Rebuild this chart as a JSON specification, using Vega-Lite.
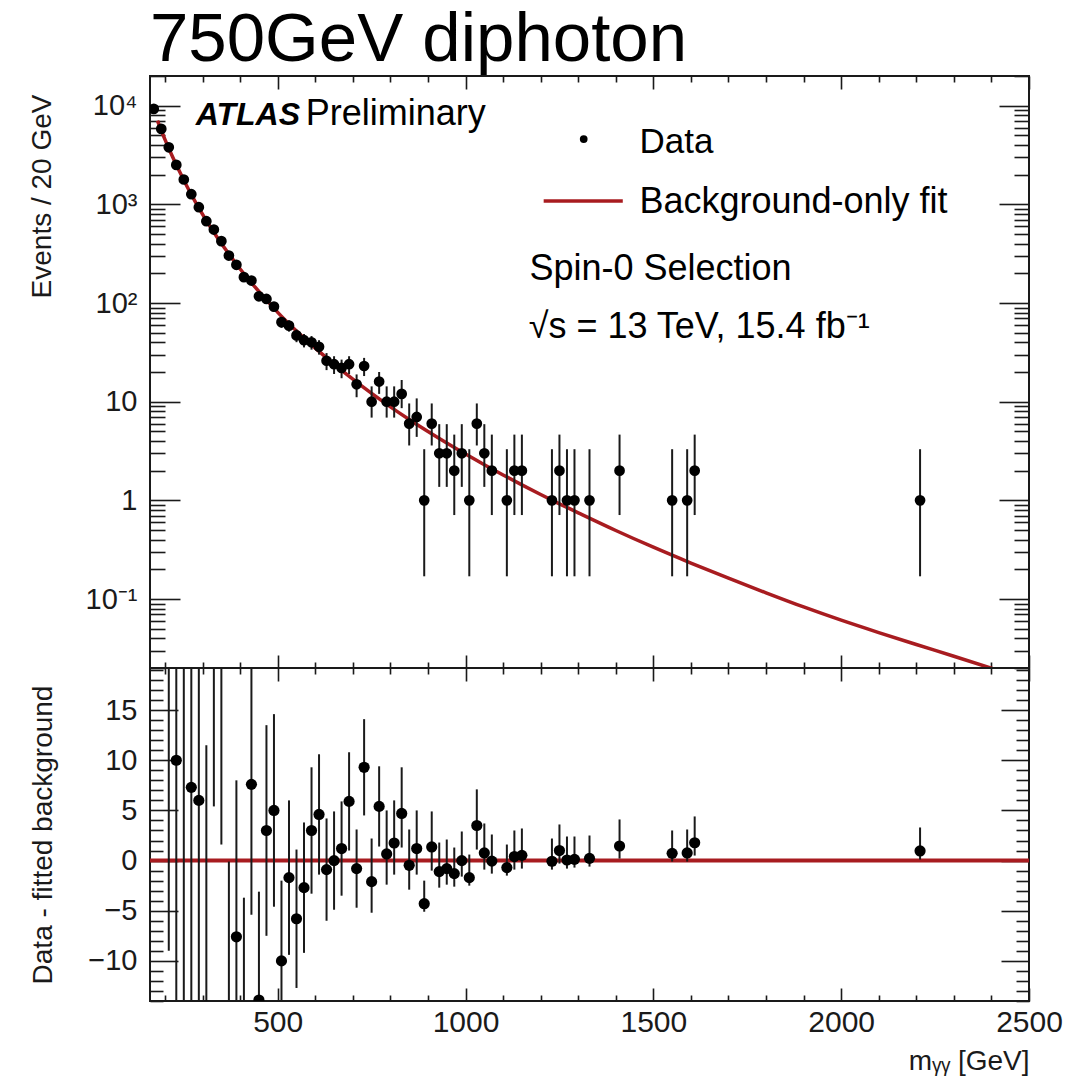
{
  "$schema": "https://vega.github.io/schema/vega-lite/v6.json",
  "background": "white",
  "padding": {"left": 27, "top": 5, "right": 5, "bottom": 5},
  "spacing": 0,
  "bounds": "flush",
  "datasets": {
    "data": [
      {"m":170,"n":9280,"lo":9184,"hi":9376},{"m":190,"n":5820,"lo":5744,"hi":5896},{"m":210,"n":3790,"lo":3728,"hi":3852},
      {"m":230,"n":2512,"lo":2462,"hi":2562},{"m":250,"n":1787,"lo":1745,"hi":1829},{"m":270,"n":1268,"lo":1232,"hi":1304},
      {"m":290,"n":936,"lo":905,"hi":967},{"m":310,"n":675,"lo":649,"hi":701},{"m":330,"n":556,"lo":532,"hi":580},
      {"m":350,"n":424,"lo":403,"hi":445},{"m":370,"n":303,"lo":286,"hi":320},{"m":390,"n":244,"lo":228,"hi":260},
      {"m":410,"n":183,"lo":169,"hi":197},{"m":430,"n":169,"lo":156,"hi":182},{"m":450,"n":117,"lo":106,"hi":128},
      {"m":470,"n":110,"lo":99.5,"hi":120.5},{"m":490,"n":92,"lo":82.4,"hi":101.6},{"m":510,"n":64,"lo":56,"hi":72},
      {"m":530,"n":59,"lo":51.3,"hi":66.7},{"m":550,"n":47,"lo":40.1,"hi":53.9},{"m":570,"n":42,"lo":35.5,"hi":48.5},
      {"m":590,"n":40,"lo":33.7,"hi":46.3},{"m":610,"n":36,"lo":30,"hi":42},{"m":630,"n":26,"lo":20.9,"hi":31.1},
      {"m":650,"n":24,"lo":19.1,"hi":28.9},{"m":670,"n":22,"lo":17.3,"hi":26.7},{"m":690,"n":24,"lo":19.1,"hi":28.9},
      {"m":710,"n":15,"lo":11.1,"hi":18.9},{"m":730,"n":23,"lo":18.2,"hi":27.8},{"m":750,"n":10,"lo":6.9,"hi":14.3},
      {"m":770,"n":16,"lo":12,"hi":20},{"m":790,"n":10,"lo":6.9,"hi":14.3},{"m":810,"n":10,"lo":6.9,"hi":14.3},
      {"m":830,"n":12,"lo":8.6,"hi":16.6},{"m":850,"n":6,"lo":3.6,"hi":9.6},{"m":870,"n":7,"lo":4.4,"hi":10.8},
      {"m":890,"n":1,"lo":0.17,"hi":3.3},{"m":910,"n":6,"lo":3.6,"hi":9.6},{"m":930,"n":3,"lo":1.37,"hi":5.92},
      {"m":950,"n":3,"lo":1.37,"hi":5.92},{"m":970,"n":2,"lo":0.71,"hi":4.64},{"m":990,"n":3,"lo":1.37,"hi":5.92},
      {"m":1010,"n":1,"lo":0.17,"hi":3.3},{"m":1030,"n":6,"lo":3.6,"hi":9.6},{"m":1050,"n":3,"lo":1.37,"hi":5.92},
      {"m":1070,"n":2,"lo":0.71,"hi":4.64},{"m":1110,"n":1,"lo":0.17,"hi":3.3},{"m":1130,"n":2,"lo":0.71,"hi":4.64},
      {"m":1150,"n":2,"lo":0.71,"hi":4.64},{"m":1230,"n":1,"lo":0.17,"hi":3.3},{"m":1250,"n":2,"lo":0.71,"hi":4.64},
      {"m":1270,"n":1,"lo":0.17,"hi":3.3},{"m":1290,"n":1,"lo":0.17,"hi":3.3},{"m":1330,"n":1,"lo":0.17,"hi":3.3},
      {"m":1410,"n":2,"lo":0.71,"hi":4.64},{"m":1550,"n":1,"lo":0.17,"hi":3.3},{"m":1590,"n":1,"lo":0.17,"hi":3.3},
      {"m":1610,"n":2,"lo":0.71,"hi":4.64},{"m":2210,"n":1,"lo":0.17,"hi":3.3}
    ],
    "fit": [
      {"m":180,"f":7046},{"m":200,"f":4531},{"m":220,"f":3034},{"m":240,"f":2100},{"m":260,"f":1481},
      {"m":280,"f":1072},{"m":300,"f":791.5},{"m":320,"f":596.9},{"m":340,"f":456.8},{"m":360,"f":354.6},
      {"m":380,"f":278.7},{"m":400,"f":221.4},{"m":420,"f":178.1},{"m":440,"f":144.6},{"m":460,"f":118.3},
      {"m":480,"f":97.4},{"m":500,"f":80.5},{"m":550,"f":52.0},{"m":600,"f":34.9},{"m":650,"f":24.06},
      {"m":700,"f":16.91},{"m":750,"f":12.13},{"m":800,"f":8.875},{"m":850,"f":6.61},{"m":900,"f":4.99},
      {"m":950,"f":3.814},{"m":1000,"f":2.947},{"m":1050,"f":2.299},{"m":1100,"f":1.81},{"m":1150,"f":1.436},
      {"m":1200,"f":1.148},{"m":1250,"f":0.9226},{"m":1300,"f":0.7482},{"m":1400,"f":0.4953},{"m":1500,"f":0.3352},
      {"m":1600,"f":0.2317},{"m":1700,"f":0.1626},{"m":1800,"f":0.1156},{"m":1900,"f":0.0831},{"m":2000,"f":0.061},
      {"m":2100,"f":0.0457},{"m":2200,"f":0.0346},{"m":2300,"f":0.0263},{"m":2425,"f":0.01855}
    ],
    "resid": [
      {"m":210,"r":52.6,"lo":-9,"hi":114.2},{"m":230,"r":10,"lo":-40,"hi":60},{"m":250,"r":22,"lo":-20.3,"hi":64.3},
      {"m":270,"r":7.3,"lo":-28.3,"hi":42.9},{"m":290,"r":6.0,"lo":-24.6,"hi":36.6},{"m":310,"r":-14.5,"lo":-40.5,"hi":11.5},
      {"m":330,"r":29,"lo":5.4,"hi":52.6},{"m":350,"r":22.2,"lo":1.6,"hi":42.8},{"m":370,"r":-17.5,"lo":-34.9,"hi":-0.1},
      {"m":390,"r":-7.6,"lo":-23.2,"hi":8.0},{"m":410,"r":-17.2,"lo":-30.7,"hi":-3.7},{"m":430,"r":7.6,"lo":-5.4,"hi":20.6},
      {"m":450,"r":-13.9,"lo":-24.7,"hi":-3.1},{"m":470,"r":3.0,"lo":-7.5,"hi":13.5},{"m":490,"r":5.0,"lo":-4.6,"hi":14.6},
      {"m":510,"r":-10.0,"lo":-18.0,"hi":-2.0},{"m":530,"r":-1.7,"lo":-9.4,"hi":6.0},{"m":550,"r":-5.8,"lo":-12.7,"hi":1.1},
      {"m":570,"r":-2.7,"lo":-9.2,"hi":3.8},{"m":590,"r":3.0,"lo":-3.3,"hi":9.3},{"m":610,"r":4.6,"lo":-1.4,"hi":10.6},
      {"m":630,"r":-0.9,"lo":-6.0,"hi":4.2},{"m":650,"r":0.0,"lo":-4.9,"hi":4.9},{"m":670,"r":1.2,"lo":-3.5,"hi":5.9},
      {"m":690,"r":5.9,"lo":1.0,"hi":10.8},{"m":710,"r":-0.8,"lo":-4.7,"hi":3.1},{"m":730,"r":9.3,"lo":4.5,"hi":14.1},
      {"m":750,"r":-2.1,"lo":-5.2,"hi":2.2},{"m":770,"r":5.4,"lo":1.4,"hi":9.4},{"m":790,"r":0.66,"lo":-2.4,"hi":5.0},
      {"m":810,"r":1.75,"lo":-1.4,"hi":6.0},{"m":830,"r":4.7,"lo":1.3,"hi":9.3},{"m":850,"r":-0.47,"lo":-2.9,"hi":3.1},
      {"m":870,"r":1.2,"lo":-1.4,"hi":5.0},{"m":890,"r":-4.3,"lo":-5.1,"hi":-2.0},{"m":910,"r":1.36,"lo":-1.0,"hi":4.9},
      {"m":930,"r":-1.1,"lo":-2.7,"hi":1.8},{"m":950,"r":-0.8,"lo":-2.4,"hi":2.1},{"m":970,"r":-1.3,"lo":-2.6,"hi":1.3},
      {"m":990,"r":0.0,"lo":-1.6,"hi":2.9},{"m":1010,"r":-1.7,"lo":-2.5,"hi":0.6},{"m":1030,"r":3.5,"lo":1.1,"hi":7.1},
      {"m":1050,"r":0.76,"lo":-0.9,"hi":3.7},{"m":1070,"r":-0.05,"lo":-1.3,"hi":2.6},{"m":1110,"r":-0.7,"lo":-1.5,"hi":1.6},
      {"m":1130,"r":0.4,"lo":-0.9,"hi":3.0},{"m":1150,"r":0.52,"lo":-0.8,"hi":3.2},{"m":1230,"r":-0.07,"lo":-0.9,"hi":2.2},
      {"m":1250,"r":1.0,"lo":-0.3,"hi":3.6},{"m":1270,"r":0.06,"lo":-0.8,"hi":2.4},{"m":1290,"r":0.12,"lo":-0.7,"hi":2.4},
      {"m":1330,"r":0.22,"lo":-0.6,"hi":2.5},{"m":1410,"r":1.45,"lo":0.2,"hi":4.1},{"m":1550,"r":0.72,"lo":-0.1,"hi":3.0},
      {"m":1590,"r":0.76,"lo":-0.1,"hi":3.1},{"m":1610,"r":1.78,"lo":0.5,"hi":4.4},{"m":2210,"r":0.96,"lo":0.1,"hi":3.3}
    ],
    "zero": [{"m":160,"z":0},{"m":2500,"z":0}],
    "one": [{}]
  },
  "vconcat": [
    {
      "width": 879,
      "height": 592,
      "title": {"text": "750GeV diphoton", "anchor": "start", "frame": "group", "font": "Liberation Sans", "fontSize": 69, "fontWeight": "normal", "color": "black", "offset": 0},
      "layer": [
        {
          "data": {"name": "fit"},
          "mark": {"type": "line", "color": "#a81c20", "strokeWidth": 3.5, "interpolate": "monotone", "clip": true},
          "encoding": {
            "x": {"field": "m", "type": "quantitative", "scale": {"domain": [160, 2500], "nice": false, "zero": false},
                  "axis": {"orient": "bottom", "values": [500,1000,1500,2000,2500], "tickSize": -13, "labels": false, "title": null}},
            "y": {"field": "f", "type": "quantitative", "scale": {"type": "log", "domain": [0.02, 20000], "nice": false},
                  "axis": {"orient": "left", "values": [0.1,1,10,100,1000,10000], "tickSize": -30, "labelPadding": 43,
                           "labelExpr": "datum.value >= 9999 ? '10⁴' : datum.value >= 999 ? '10³' : datum.value >= 99 ? '10²' : datum.value >= 9 ? '10' : datum.value >= 0.9 ? '1' : '10⁻¹'",
                           "labelOverlap": false, "title": "Events / 20 GeV", "titleAnchor": "end", "titleY": 18, "titlePadding": 29}}
          }
        },
        {
          "data": {"name": "data"},
          "mark": {"type": "rule", "color": "#1a1a1a", "strokeWidth": 2, "clip": true},
          "encoding": {
            "x": {"field": "m", "type": "quantitative", "scale": {"domain": [160, 2500], "nice": false, "zero": false},
                  "axis": {"orient": "top", "values": [500,1000,1500,2000,2500], "tickSize": -13, "labels": false, "title": null}},
            "y": {"field": "lo", "type": "quantitative", "scale": {"type": "log", "domain": [0.02, 20000], "nice": false},
                  "axis": {"orient": "right", "values": [0.1,1,10,100,1000,10000], "tickSize": -30, "labels": false, "title": null}},
            "y2": {"field": "n"}
          }
        },
        {
          "data": {"name": "data"},
          "mark": {"type": "rule", "color": "#1a1a1a", "strokeWidth": 2, "clip": true},
          "encoding": {
            "x": {"field": "m", "type": "quantitative", "scale": {"domain": [160, 2500], "nice": false, "zero": false},
                  "axis": {"orient": "bottom", "values": [200,300,400,600,700,800,900,1100,1200,1300,1400,1600,1700,1800,1900,2100,2200,2300,2400], "tickSize": -6, "labels": false, "title": null}},
            "y": {"field": "n", "type": "quantitative", "scale": {"type": "log", "domain": [0.02, 20000], "nice": false},
                  "axis": {"orient": "left", "values": [0.02,0.03,0.04,0.05,0.06,0.07,0.08,0.09,0.2,0.3,0.4,0.5,0.6,0.7,0.8,0.9,2,3,4,5,6,7,8,9,20,30,40,50,60,70,80,90,200,300,400,500,600,700,800,900,2000,3000,4000,5000,6000,7000,8000,9000,20000], "tickSize": -15, "labels": false, "title": null}},
            "y2": {"field": "hi"}
          }
        },
        {
          "data": {"name": "data"},
          "mark": {"type": "circle", "color": "black", "opacity": 1, "size": 115, "clip": true},
          "encoding": {
            "x": {"field": "m", "type": "quantitative", "scale": {"domain": [160, 2500], "nice": false, "zero": false},
                  "axis": {"orient": "top", "values": [200,300,400,600,700,800,900,1100,1200,1300,1400,1600,1700,1800,1900,2100,2200,2300,2400], "tickSize": -6, "labels": false, "title": null}},
            "y": {"field": "n", "type": "quantitative", "scale": {"type": "log", "domain": [0.02, 20000], "nice": false},
                  "axis": {"orient": "right", "values": [0.02,0.03,0.04,0.05,0.06,0.07,0.08,0.09,0.2,0.3,0.4,0.5,0.6,0.7,0.8,0.9,2,3,4,5,6,7,8,9,20,30,40,50,60,70,80,90,200,300,400,500,600,700,800,900,2000,3000,4000,5000,6000,7000,8000,9000,20000], "tickSize": -15, "labels": false, "title": null}}
          }
        },
        {
          "data": {"name": "one"},
          "mark": {"type": "text", "text": "ATLAS", "font": "Liberation Sans", "fontSize": 32, "fontStyle": "italic", "fontWeight": "bold", "align": "left", "baseline": "alphabetic", "color": "black"},
          "encoding": {
            "x": {"datum": 281.7, "type": "quantitative", "scale": {"domain": [160, 2500], "nice": false, "zero": false}, "axis": null},
            "y": {"datum": 6375, "type": "quantitative", "scale": {"type": "log", "domain": [0.02, 20000], "nice": false}, "axis": null}
          }
        },
        {
          "data": {"name": "one"},
          "mark": {"type": "text", "text": "Preliminary", "font": "Liberation Sans", "fontSize": 36, "align": "left", "baseline": "alphabetic", "color": "black"},
          "encoding": {
            "x": {"datum": 574.5, "type": "quantitative", "scale": {"domain": [160, 2500], "nice": false, "zero": false}, "axis": null},
            "y": {"datum": 6375, "type": "quantitative", "scale": {"type": "log", "domain": [0.02, 20000], "nice": false}, "axis": null}
          }
        },
        {
          "data": {"name": "one"},
          "mark": {"type": "circle", "color": "black", "opacity": 1, "size": 60},
          "encoding": {
            "x": {"datum": 1314.6, "type": "quantitative", "scale": {"domain": [160, 2500], "nice": false, "zero": false}, "axis": null},
            "y": {"datum": 4597, "type": "quantitative", "scale": {"type": "log", "domain": [0.02, 20000], "nice": false}, "axis": null}
          }
        },
        {
          "data": {"name": "one"},
          "mark": {"type": "text", "text": "Data", "font": "Liberation Sans", "fontSize": 35, "align": "left", "baseline": "alphabetic", "color": "black"},
          "encoding": {
            "x": {"datum": 1463, "type": "quantitative", "scale": {"domain": [160, 2500], "nice": false, "zero": false}, "axis": null},
            "y": {"datum": 3339, "type": "quantitative", "scale": {"type": "log", "domain": [0.02, 20000], "nice": false}, "axis": null}
          }
        },
        {
          "data": {"name": "one"},
          "mark": {"type": "rule", "color": "#a81c20", "strokeWidth": 3.5},
          "encoding": {
            "x": {"datum": 1208, "type": "quantitative", "scale": {"domain": [160, 2500], "nice": false, "zero": false}, "axis": null},
            "x2": {"datum": 1418.6},
            "y": {"datum": 1080, "type": "quantitative", "scale": {"type": "log", "domain": [0.02, 20000], "nice": false}, "axis": null}
          }
        },
        {
          "data": {"name": "one"},
          "mark": {"type": "text", "text": "Background-only fit", "font": "Liberation Sans", "fontSize": 36, "align": "left", "baseline": "alphabetic", "color": "black"},
          "encoding": {
            "x": {"datum": 1463, "type": "quantitative", "scale": {"domain": [160, 2500], "nice": false, "zero": false}, "axis": null},
            "y": {"datum": 823, "type": "quantitative", "scale": {"type": "log", "domain": [0.02, 20000], "nice": false}, "axis": null}
          }
        },
        {
          "data": {"name": "one"},
          "mark": {"type": "text", "text": "Spin-0 Selection", "font": "Liberation Sans", "fontSize": 36, "align": "left", "baseline": "alphabetic", "color": "black"},
          "encoding": {
            "x": {"datum": 1170, "type": "quantitative", "scale": {"domain": [160, 2500], "nice": false, "zero": false}, "axis": null},
            "y": {"datum": 172, "type": "quantitative", "scale": {"type": "log", "domain": [0.02, 20000], "nice": false}, "axis": null}
          }
        },
        {
          "data": {"name": "one"},
          "mark": {"type": "text", "text": "√s = 13 TeV, 15.4 fb⁻¹", "font": "Liberation Sans", "fontSize": 36, "align": "left", "baseline": "alphabetic", "color": "black"},
          "encoding": {
            "x": {"datum": 1168, "type": "quantitative", "scale": {"domain": [160, 2500], "nice": false, "zero": false}, "axis": null},
            "y": {"datum": 44.2, "type": "quantitative", "scale": {"type": "log", "domain": [0.02, 20000], "nice": false}, "axis": null}
          }
        }
      ]
    },
    {
      "width": 879,
      "height": 333,
      "layer": [
        {
          "data": {"name": "zero"},
          "mark": {"type": "line", "color": "#a81c20", "strokeWidth": 4, "clip": true},
          "encoding": {
            "x": {"field": "m", "type": "quantitative", "scale": {"domain": [160, 2500], "nice": false, "zero": false},
                  "axis": {"orient": "bottom", "values": [500,1000,1500,2000,2500], "tickSize": -13, "labelPadding": 19, "format": "d", "labelFlush": false, "labelOverlap": false, "labelFontSize": 30,
                           "title": "mᵧᵧ [GeV]", "titleAnchor": "end", "titlePadding": 10}},
            "y": {"field": "z", "type": "quantitative", "scale": {"domain": [-14, 19.2], "nice": false, "zero": false},
                  "axis": {"orient": "left", "values": [-10,-5,0,5,10,15], "tickSize": -28, "labelPadding": 41, "format": "d", "labelOverlap": false,
                           "title": "Data - fitted background", "titlePadding": 30}}
          }
        },
        {
          "data": {"name": "resid"},
          "mark": {"type": "rule", "color": "#1a1a1a", "strokeWidth": 2, "clip": true},
          "encoding": {
            "x": {"field": "m", "type": "quantitative", "scale": {"domain": [160, 2500], "nice": false, "zero": false},
                  "axis": {"orient": "top", "values": [500,1000,1500,2000,2500], "tickSize": -13, "labels": false, "title": null}},
            "y": {"field": "lo", "type": "quantitative", "scale": {"domain": [-14, 19.2], "nice": false, "zero": false},
                  "axis": {"orient": "right", "values": [-10,-5,0,5,10,15], "tickSize": -28, "labels": false, "title": null}},
            "y2": {"field": "r"}
          }
        },
        {
          "data": {"name": "resid"},
          "mark": {"type": "rule", "color": "#1a1a1a", "strokeWidth": 2, "clip": true},
          "encoding": {
            "x": {"field": "m", "type": "quantitative", "scale": {"domain": [160, 2500], "nice": false, "zero": false},
                  "axis": {"orient": "bottom", "values": [200,300,400,600,700,800,900,1100,1200,1300,1400,1600,1700,1800,1900,2100,2200,2300,2400], "tickSize": -6, "labels": false, "title": null}},
            "y": {"field": "r", "type": "quantitative", "scale": {"domain": [-14, 19.2], "nice": false, "zero": false},
                  "axis": {"orient": "left", "values": [-14,-13,-12,-11,-9,-8,-7,-6,-4,-3,-2,-1,1,2,3,4,6,7,8,9,11,12,13,14,16,17,18,19], "tickSize": -13, "labels": false, "title": null}},
            "y2": {"field": "hi"}
          }
        },
        {
          "data": {"name": "resid"},
          "mark": {"type": "circle", "color": "black", "opacity": 1, "size": 125, "clip": true},
          "encoding": {
            "x": {"field": "m", "type": "quantitative", "scale": {"domain": [160, 2500], "nice": false, "zero": false},
                  "axis": {"orient": "top", "values": [200,300,400,600,700,800,900,1100,1200,1300,1400,1600,1700,1800,1900,2100,2200,2300,2400], "tickSize": -6, "labels": false, "title": null}},
            "y": {"field": "r", "type": "quantitative", "scale": {"domain": [-14, 19.2], "nice": false, "zero": false},
                  "axis": {"orient": "right", "values": [-14,-13,-12,-11,-9,-8,-7,-6,-4,-3,-2,-1,1,2,3,4,6,7,8,9,11,12,13,14,16,17,18,19], "tickSize": -13, "labels": false, "title": null}}
          }
        }
      ]
    }
  ],
  "config": {
    "view": {"stroke": "#1a1a1a", "strokeWidth": 2},
    "font": "Liberation Sans",
    "axis": {
      "domain": false, "grid": false, "ticks": true, "tickColor": "#1a1a1a", "tickWidth": 1.6,
      "labelFont": "Liberation Sans", "labelFontSize": 29, "labelColor": "#1a1a1a",
      "titleFont": "Liberation Sans", "titleFontSize": 28, "titleFontWeight": "normal", "titleColor": "#1a1a1a"
    }
  }
}
